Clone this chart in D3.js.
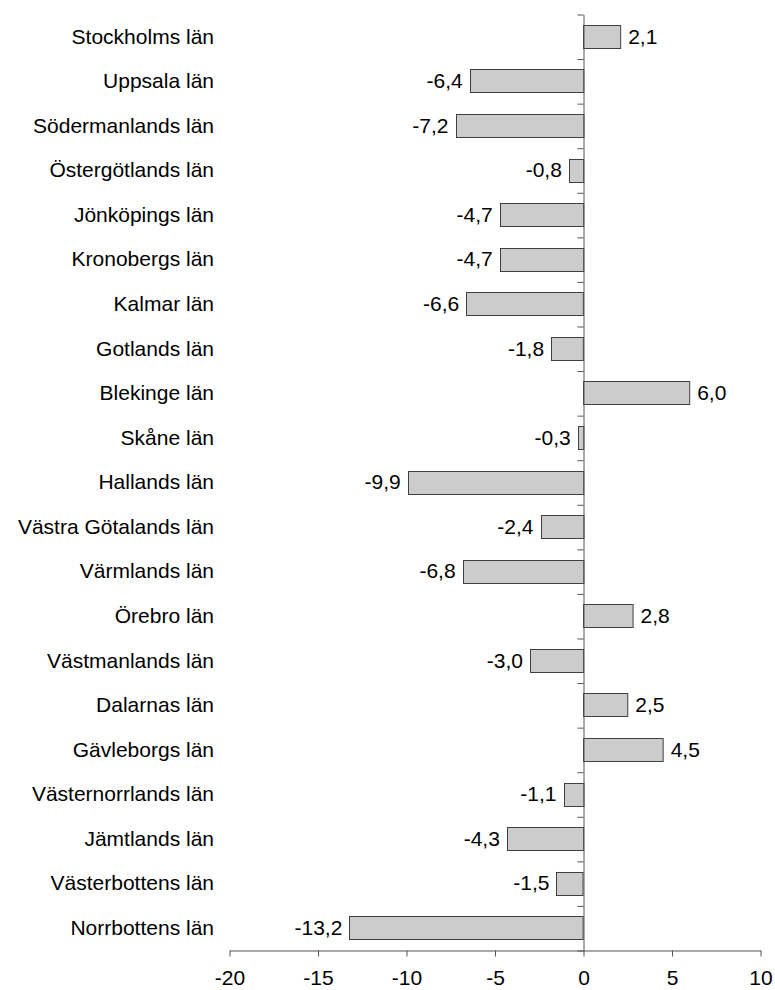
<!DOCTYPE html>
<html>
<head>
<meta charset="utf-8">
<script src="https://cdn.jsdelivr.net/npm/d3@7"></script>
<style>
  body { margin: 0; background: #fff; }
  svg text { font-family: "Liberation Sans", Arial, sans-serif; fill: #000; }
</style>
</head>
<body>
<div id="container"></div>
<script>
let regions = [
  "Stockholms län", "Uppsala län", "Södermanlands län", "Östergötlands län",
  "Jönköpings län", "Kronobergs län", "Kalmar län", "Gotlands län",
  "Blekinge län", "Skåne län", "Hallands län", "Västra Götalands län",
  "Värmlands län", "Örebro län", "Västmanlands län", "Dalarnas län",
  "Gävleborgs län", "Västernorrlands län", "Jämtlands län",
  "Västerbottens län", "Norrbottens län"
];
let values = [
  2.1, -6.4, -7.2, -0.8, -4.7, -4.7, -6.6, -1.8, 6.0, -0.3, -9.9,
  -2.4, -6.8, 2.8, -3.0, 2.5, 4.5, -1.1, -4.3, -1.5, -13.2
];
let xTicks = [-20, -15, -10, -5, 0, 5, 10];

let w = 775;
let h = 990;
let fontSize = 21;

let svg = d3.select("#container").append("svg")
  .attr("width", w)
  .attr("height", h);

let data = regions.map((r, i) => ({ region: r, value: values[i] }));

let xScale = d3.scaleLinear().domain([-20, 10]).range([229, 760]);
let yScale = d3.scaleBand()
  .domain(regions)
  .range([14, 950])
  .paddingInner(0.49)
  .paddingOuter(0.245);

// bars
svg.selectAll(".bar")
  .data(data)
  .enter()
  .append("rect")
  .attr("class", "bar")
  .attr("x", d => Math.round(xScale(Math.min(0, d.value))) + 0.5)
  .attr("y", d => Math.round(yScale(d.region)) + 0.5)
  .attr("width", d => Math.abs(xScale(d.value) - xScale(0)))
  .attr("height", Math.round(yScale.bandwidth()))
  .attr("fill", "#cccccc")
  .attr("stroke", "#404040")
  .attr("stroke-width", 1);

// value labels
let fmt = v => v.toFixed(1).replace(".", ",");
svg.selectAll(".val")
  .data(data)
  .enter()
  .append("text")
  .attr("class", "val")
  .attr("x", d => d.value >= 0 ? xScale(d.value) + 8 : xScale(d.value) - 7)
  .attr("y", d => yScale(d.region) + yScale.bandwidth() / 2)
  .attr("dy", "0.35em")
  .attr("text-anchor", d => d.value >= 0 ? "start" : "end")
  .style("font-size", fontSize + "px")
  .text(d => fmt(d.value));

// category labels
svg.selectAll(".cat")
  .data(regions)
  .enter()
  .append("text")
  .attr("class", "cat")
  .attr("x", 214)
  .attr("y", d => yScale(d) + yScale.bandwidth() / 2)
  .attr("dy", "0.35em")
  .attr("text-anchor", "end")
  .style("font-size", fontSize + "px")
  .text(d => d);

// vertical axis at zero with ticks between categories
let yBound = d3.scaleLinear().domain([0, regions.length]).range([14, 950]);
let yAxis = svg.append("g")
  .attr("transform", "translate(" + (Math.round(xScale(0)) + 0.5) + ",0.5)")
  .call(d3.axisLeft(yBound)
    .tickValues(d3.range(0, regions.length + 1))
    .tickSize(6)
    .tickSizeOuter(0)
    .tickFormat(""));
yAxis.selectAll("path, line").attr("stroke", "#555");

// bottom axis
let xAxis = svg.append("g")
  .attr("transform", "translate(0.5,950.5)")
  .call(d3.axisBottom(xScale)
    .tickValues(xTicks)
    .tickSize(6)
    .tickSizeOuter(0)
    .tickPadding(14)
    .tickFormat(d => String(d)));
xAxis.select(".domain").attr("stroke", "#555");
xAxis.selectAll("line").attr("stroke", "#555");
xAxis.selectAll("text")
  .style("font-size", fontSize + "px")
  .style("font-family", "'Liberation Sans', Arial, sans-serif")
  .attr("fill", "#000");
</script>
</body>
</html>
